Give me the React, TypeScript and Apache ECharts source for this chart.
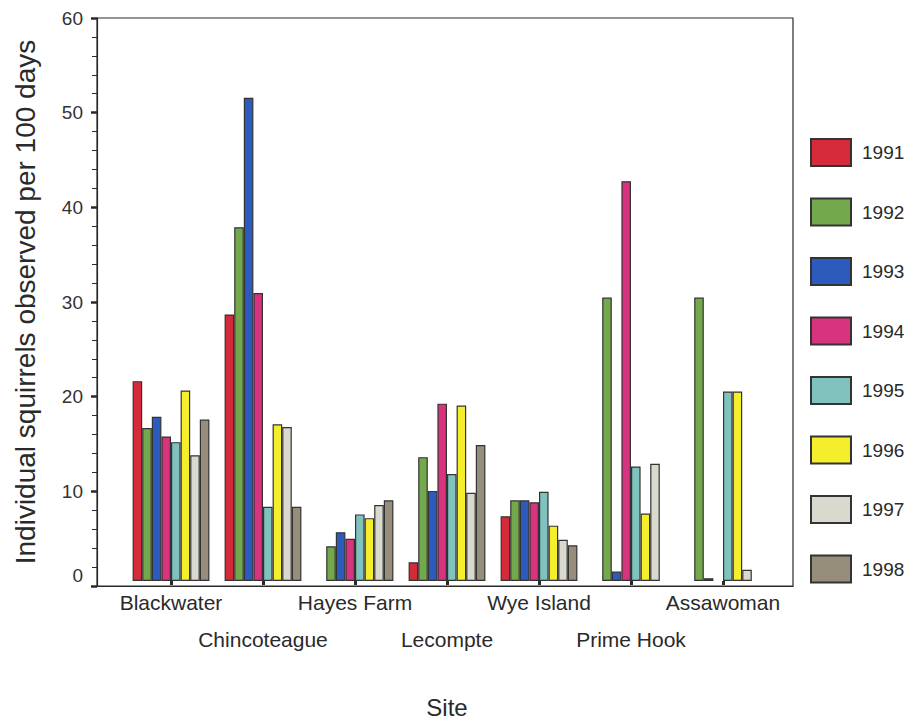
import React, { useEffect, useRef } from "react";
import * as echarts from "echarts";

const sites = ["Blackwater", "Chincoteague", "Hayes Farm", "Lecompte", "Wye Island", "Prime Hook", "Assawoman"];
const years = ["1991", "1992", "1993", "1994", "1995", "1996", "1997", "1998"];
const y1991 = [21.3, 28.4, 0, 2.0, 6.9, 0, 0];
const y1992 = [16.3, 37.7, 3.7, 13.2, 8.6, 30.2, 30.2];
const y1993 = [17.5, 51.5, 5.2, 9.6, 8.6, 1.0, 0.3];
const y1994 = [15.4, 30.7, 4.5, 18.9, 8.4, 42.6, 0];
const y1995 = [14.8, 7.9, 7.1, 11.4, 9.5, 12.2, 20.2];
const y1996 = [20.3, 16.7, 6.7, 18.7, 5.9, 7.2, 20.2];
const y1997 = [13.4, 16.4, 8.1, 9.4, 4.4, 12.5, 1.2];
const y1998 = [17.2, 7.9, 8.6, 14.5, 3.8, 0, 0];
const seriesValues = [y1991, y1992, y1993, y1994, y1995, y1996, y1997, y1998];
const colors = ["#d42a3a", "#74a84c", "#2d5bbd", "#d8337f", "#80c2be", "#f5ee2c", "#d9d9cf", "#968e7b"];

const FONT = "Liberation Sans, Arial, sans-serif";
const INK = "#2a2a2a";

export default function App() {
  const ref = useRef<HTMLDivElement>(null);
  useEffect(() => {
    if (!ref.current) return;
    const chart = echarts.init(ref.current, undefined, { renderer: "svg" });
    chart.setOption({
      animation: false,
      backgroundColor: "#ffffff",
      textStyle: { fontFamily: FONT },
      legend: {
        orient: "vertical",
        left: 810,
        top: 138,
        padding: 0,
        itemWidth: 40,
        itemHeight: 27,
        itemGap: 30.5,
        icon: "rect",
        textStyle: { fontSize: 19, color: INK, fontFamily: FONT, padding: [0, 0, 0, 6] },
        data: years,
      },
      grid: [
        { left: 97, top: 18, width: 696, height: 568, show: true, borderColor: INK, borderWidth: 1.2, backgroundColor: "transparent" },
        { left: 125, top: 18, width: 644, height: 568 },
      ],
      xAxis: [
        {
          gridIndex: 0,
          type: "value",
          min: 0,
          max: 1,
          axisLine: { show: true, lineStyle: { color: INK, width: 1.2 } },
          axisTick: { show: false },
          axisLabel: { show: false },
          splitLine: { show: false },
        },
        {
          gridIndex: 1,
          type: "category",
          data: sites,
          name: "Site",
          nameLocation: "middle",
          nameGap: 114,
          nameTextStyle: { fontSize: 24, color: INK, fontFamily: FONT },
          axisLine: { show: false },
          axisTick: { show: true, alignWithLabel: true, length: 4, lineStyle: { color: INK, width: 3 } },
          axisLabel: {
            fontSize: 21,
            color: INK,
            fontFamily: FONT,
            margin: 3,
            lineHeight: 37,
            interval: 0,
            formatter: (v: string, i: number) => (i % 2 === 1 ? "\n" + v : v),
          },
          splitLine: { show: false },
        },
      ],
      yAxis: [
        {
          gridIndex: 0,
          type: "value",
          min: 0,
          max: 60,
          interval: 10,
          name: "Individual squirrels observed per 100 days",
          nameLocation: "middle",
          nameRotate: 90,
          nameGap: 58,
          nameTextStyle: { fontSize: 28, color: INK, fontFamily: FONT },
          axisLine: { show: true, lineStyle: { color: INK, width: 1.2 } },
          axisTick: { show: true, length: 6, lineStyle: { color: INK, width: 2.5 } },
          minorTick: { show: true, splitNumber: 5, length: 5, lineStyle: { color: INK, width: 1 } },
          axisLabel: {
            fontSize: 19,
            color: "#333",
            fontFamily: FONT,
            margin: 14,
            formatter: (v: number) => (v === 0 ? "{z|0}" : String(v)),
            rich: { z: { fontSize: 19, color: "#333", fontFamily: FONT, padding: [0, 0, 22, 0] } },
          },
          splitLine: { show: false },
        },
        {
          gridIndex: 1,
          type: "value",
          min: 0,
          max: 60,
          show: false,
          splitLine: { show: false },
        },
      ],
      series: years.map((y, k) => ({
        name: y,
        type: "bar",
        xAxisIndex: 1,
        yAxisIndex: 1,
        data: seriesValues[k].map((v) => (v === 0 ? null : v)),
        barWidth: 9.6,
        barGap: "0%",
        itemStyle: { color: colors[k], borderColor: "#333", borderWidth: 1.2 },
      })),
    });
    return () => chart.dispose();
  }, []);
  return <div ref={ref} style={{ position: "fixed", left: 0, top: 0, width: 914, height: 724 }} />;
}
